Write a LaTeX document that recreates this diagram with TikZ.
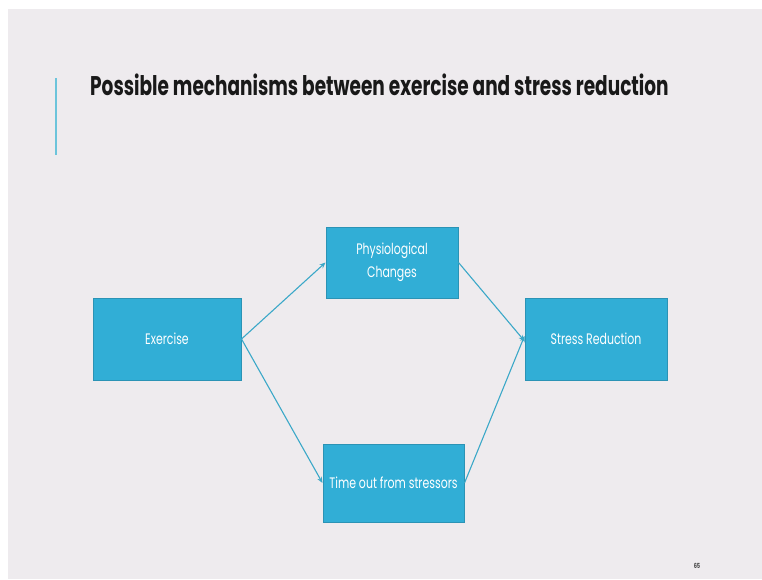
\documentclass[tikz,border=0pt]{standalone}
\usepackage{fontspec}
\usetikzlibrary{arrows.meta}
\newfontfamily\titlefont{Poppins}[FakeStretch=0.685]
\newfontfamily\boxfont{Poppins}[FakeStretch=0.72]
\definecolor{bgc}{HTML}{EEEBEE}
\definecolor{boxfill}{HTML}{31AED6}
\definecolor{boxline}{HTML}{2B93B5}
\definecolor{arrowc}{HTML}{3BA8C8}
\definecolor{accent}{HTML}{6CC4DB}
\tikzset{
  stepbox/.style={draw=boxline, line width=1pt, fill=boxfill, text=white,
    inner sep=0pt, align=center, font=\boxfont\fontsize{15.2}{23}\selectfont},
  link/.style={draw=arrowc, line width=1.1pt, -{Stealth[length=6pt,width=5pt]}}
}
\begin{document}
\begin{tikzpicture}[x=1pt,y=-1pt]
\useasboundingbox (0,0) rectangle (762,579);
\fill[white] (0,0) rectangle (762,579);
\fill[bgc] (8,9) rectangle (762,579);
\draw[accent, line width=1.2pt] (56,78) coordinate (lt) -- (56,155) coordinate (lb);
\node[anchor=base west, inner sep=0pt, font=\titlefont\bfseries\fontsize{27}{30}\selectfont, text=black!90]
  (title) at (90,95) {Possible mechanisms between exercise and stress reduction};
\node[stepbox, minimum width=148pt, minimum height=82pt] (ex) at (167,339) {Exercise};
\node[stepbox, minimum width=132pt, minimum height=71pt] (phys) at (392,262.5) {Physiological\\Changes};
\node[stepbox, minimum width=142pt, minimum height=82pt] (sr) at (596,339) {Stress Reduction};
\node[stepbox, minimum width=141pt, minimum height=78pt] (to) at (393.5,483) {Time out from stressors};
\draw[link] (ex.east) -- (phys.west);
\draw[link] (ex.east) -- (to.west);
\draw[link] (phys.east) -- ([yshift=-2pt]sr.west);
\draw[link] (to.east) -- ([yshift=3pt]sr.west);
\node[font=\boxfont\bfseries\fontsize{7}{8}\selectfont, text=black!70, inner sep=0pt] (pg) at (697,566) {65};
\end{tikzpicture}
\end{document}
